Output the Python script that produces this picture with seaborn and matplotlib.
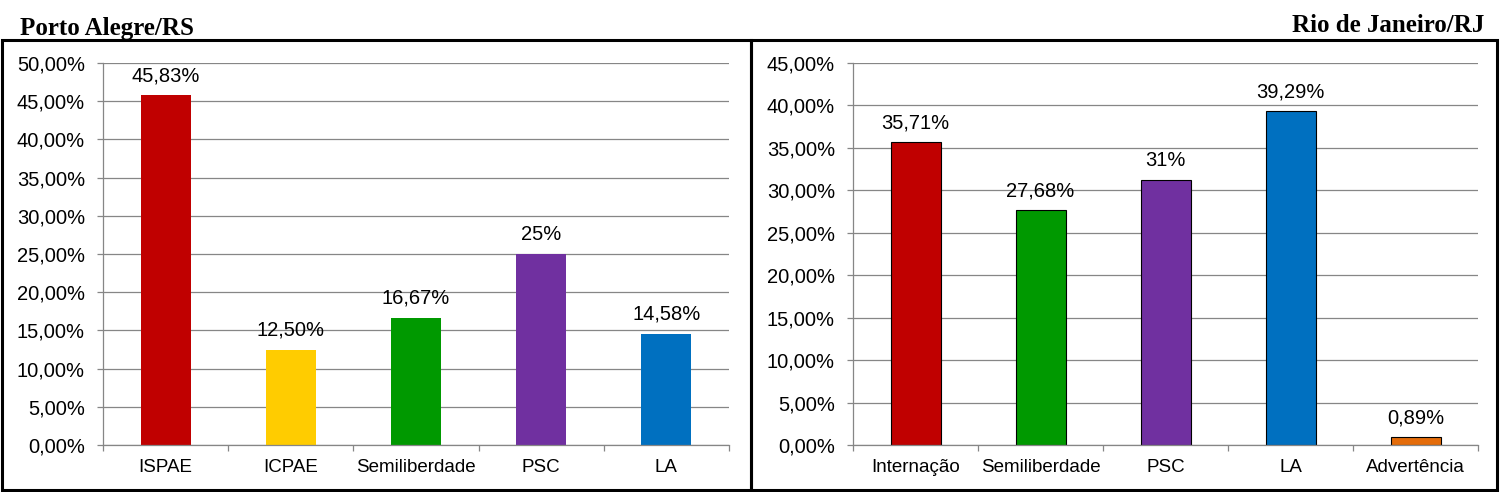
import numpy as np
import pandas as pd
import matplotlib
matplotlib.use("Agg")
import matplotlib.pyplot as plt
from matplotlib.ticker import FuncFormatter, FixedLocator, MultipleLocator
from matplotlib.patches import Rectangle
import seaborn as sns

# --- dados ---
poa_cats = ["ISPAE", "ICPAE", "Semiliberdade", "PSC", "LA"]
poa_vals = [45.83, 12.50, 16.67, 25.0, 14.58]
poa_labels = ["45,83%", "12,50%", "16,67%", "25%", "14,58%"]
poa_colors = ["#C00000", "#FFCC00", "#009900", "#7030A0", "#0070C0"]

rio_cats = ["Internação", "Semiliberdade", "PSC", "LA", "Advertência"]
rio_vals = [35.71, 27.68, 31.25, 39.29, 0.89]
rio_labels = ["35,71%", "27,68%", "31%", "39,29%", "0,89%"]
rio_colors = ["#C00000", "#009900", "#7030A0", "#0070C0", "#E46C0A"]

sns.set_theme(style="white")
plt.rcParams["font.family"] = ["Liberation Sans", "DejaVu Sans"]
plt.rcParams["text.color"] = "black"

W, H = 1502, 492
fig = plt.figure(figsize=(W / 100, H / 100), dpi=100)

grid_col = "#868686"


def pct(v, pos):
    return f"{v:.2f}%".replace(".", ",")


def painel(rect, cats, vals, labels, colors, ymax, edge):
    ax = fig.add_axes(rect)
    df = pd.DataFrame({"cat": cats, "val": vals})
    sns.barplot(data=df, x="cat", y="val", hue="cat", palette=colors,
                legend=False, ax=ax, width=0.4, saturation=1,
                edgecolor="black" if edge else "none",
                linewidth=0.8 if edge else 0)
    ax.set_ylim(0, ymax)
    ax.set_xlim(-0.5, len(cats) - 0.5)
    ax.yaxis.set_major_locator(MultipleLocator(5))
    ax.yaxis.set_major_formatter(FuncFormatter(pct))
    ax.grid(axis="y", color=grid_col, linewidth=0.9)
    ax.set_axisbelow(True)
    for s in ["top", "right"]:
        ax.spines[s].set_visible(False)
    for s in ["left", "bottom"]:
        ax.spines[s].set_color(grid_col)
        ax.spines[s].set_linewidth(0.9)
    ax.set_xlabel("")
    ax.set_ylabel("")
    ax.tick_params(axis="y", which="major", left=True, length=4, width=0.9,
                   color=grid_col, labelsize=14.5, pad=9, labelcolor="black")
    ax.tick_params(axis="x", which="major", bottom=False, length=0,
                   labelsize=13.5, pad=10, labelcolor="black")
    ax.xaxis.set_minor_locator(FixedLocator(np.arange(-0.5, len(cats), 1.0)))
    ax.tick_params(axis="x", which="minor", bottom=True, length=4,
                   width=0.9, color=grid_col)
    for i, cont in enumerate(ax.containers):
        ax.bar_label(cont, labels=[labels[i]], padding=7, fontsize=14.5,
                     color="black")
    return ax


painel([103 / W, 47 / H, 626 / W, 382 / H], poa_cats, poa_vals, poa_labels,
       poa_colors, 50, False)
painel([853 / W, 47 / H, 625 / W, 382 / H], rio_cats, rio_vals, rio_labels,
       rio_colors, 45, True)

# molduras dos paineis
for x0, x1 in [(1.5, 751), (751, 1497)]:
    fig.add_artist(Rectangle((x0 / W, 2 / H), (x1 - x0) / W, 450 / H,
                             transform=fig.transFigure, fill=False,
                             edgecolor="black", linewidth=2.2))

fig.text(20 / W, (H - 35) / H, "Porto Alegre/RS", family="Liberation Serif",
         weight="bold", fontsize=18, ha="left", va="baseline")
fig.text(1484 / W, (H - 32) / H, "Rio de Janeiro/RJ", family="Liberation Serif",
         weight="bold", fontsize=18, ha="right", va="baseline")

fig.savefig("out.png", dpi=100)
